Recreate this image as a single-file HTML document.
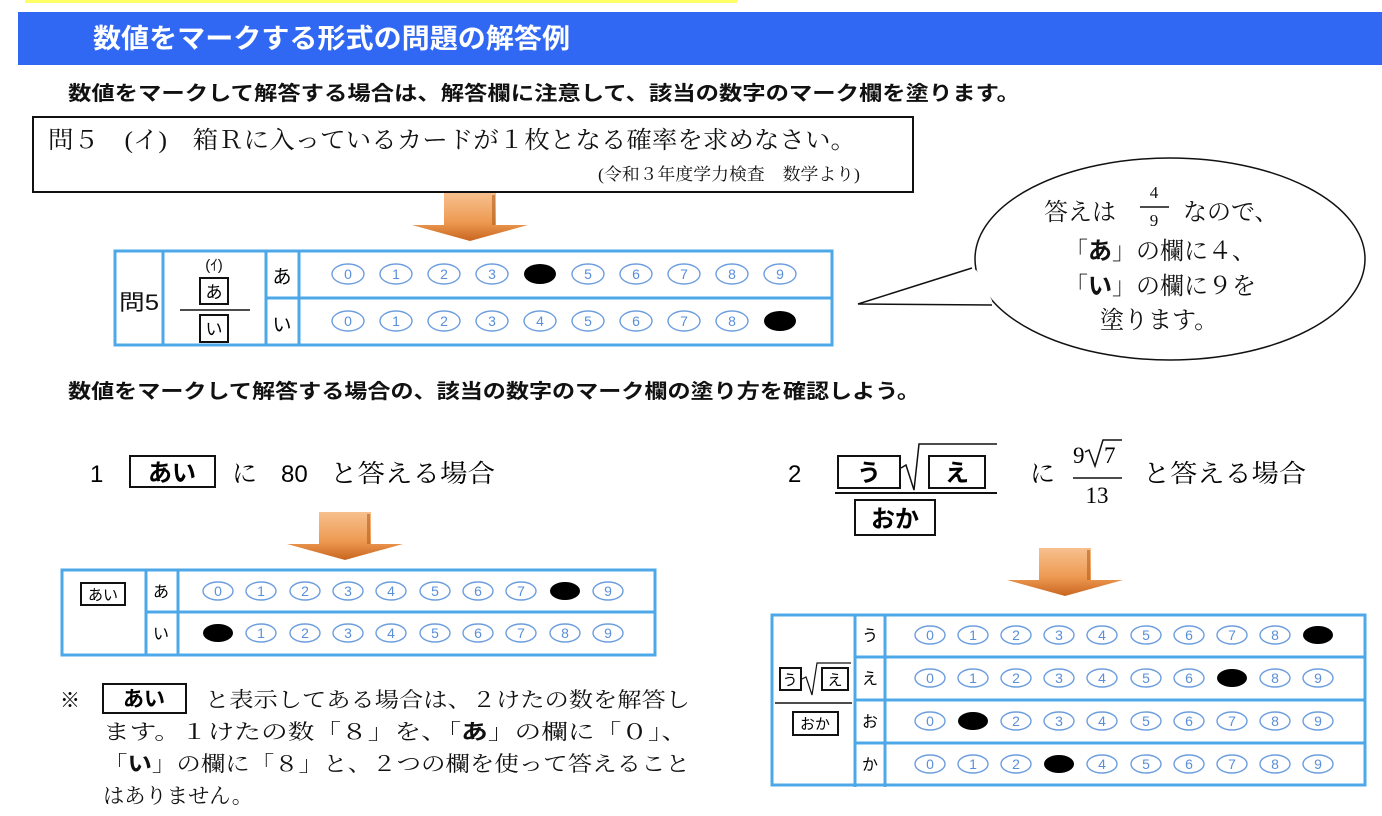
<!DOCTYPE html>
<html><head><meta charset="utf-8">
<style>
html,body{margin:0;padding:0;background:#fff;}
svg{display:block;}
.sb{font-family:"Liberation Sans","Noto Sans CJK JP",sans-serif;font-weight:bold;}
.s{font-family:"Liberation Sans","Noto Sans CJK JP",sans-serif;}
.m{font-family:"Liberation Serif","Noto Serif CJK SC",serif;}
.d{font-family:"Liberation Sans",sans-serif;font-size:14px;fill:#5a8fd8;text-anchor:middle;}
.c{fill:none;stroke:#6c9ede;stroke-width:1.4;}
.t{fill:none;stroke:#4ea8e8;stroke-width:3;}
.bx{fill:#fff;stroke:#111;stroke-width:2;}
</style></head>
<body>
<svg width="1382" height="816" viewBox="0 0 1382 816" xmlns="http://www.w3.org/2000/svg">
<defs>
<linearGradient id="og" x1="0" y1="0" x2="0" y2="1">
<stop offset="0" stop-color="#f7c08e"/><stop offset="0.6" stop-color="#ee9a52"/><stop offset="1" stop-color="#c8651f"/>
</linearGradient>
<g id="arrow">
<path d="M-26,0 H26 V32 H58 L0,48 L-58,32 H-26 Z" fill="url(#og)"/>
<rect x="22" y="2" width="3" height="30" fill="#b25e1c" opacity="0.6"/>
</g>
</defs>
<rect x="25" y="0" width="712" height="3" fill="#ffff66"/>
<rect x="18" y="12" width="1364" height="53" fill="#3068f3"/>
<text x="93" y="48" class="sb" font-size="27" fill="#fff" textLength="477" lengthAdjust="spacingAndGlyphs">数値をマークする形式の問題の解答例</text>
<text x="68" y="100" class="sb" font-size="20" fill="#111" textLength="952" lengthAdjust="spacingAndGlyphs">数値をマークして解答する場合は、解答欄に注意して、該当の数字のマーク欄を塗ります。</text>

<rect x="33" y="117" width="880" height="75" fill="#fff" stroke="#111" stroke-width="2"/>
<text x="48" y="148" class="m" font-size="24" fill="#111" textLength="808" lengthAdjust="spacingAndGlyphs">問５　(イ)　箱Ｒに入っているカードが１枚となる確率を求めなさい。</text>
<text x="598" y="180" class="m" font-size="17" fill="#111" textLength="262" lengthAdjust="spacingAndGlyphs">(令和３年度学力検査　数学より)</text>

<use href="#arrow" x="470" y="193"/>

<!-- table 1 -->
<rect x="115" y="251" width="717" height="94" class="t"/>
<line x1="163" y1="251" x2="163" y2="345" class="t"/>
<line x1="266" y1="251" x2="266" y2="345" class="t"/>
<line x1="299" y1="251" x2="299" y2="345" class="t"/>
<line x1="266" y1="298" x2="832" y2="298" class="t"/>
<text x="119" y="310" class="s" font-size="22" fill="#111" textLength="40" lengthAdjust="spacingAndGlyphs">問5</text>
<text x="214" y="270" class="s" font-size="15" text-anchor="middle" fill="#111">(ｲ)</text>
<rect x="200" y="278" width="28" height="26" class="bx" stroke-width="1.5"/>
<text x="214" y="298" class="s" font-size="17" text-anchor="middle">あ</text>
<line x1="180" y1="310" x2="250" y2="310" stroke="#111" stroke-width="1.5"/>
<rect x="200" y="315" width="28" height="27" class="bx" stroke-width="1.5"/>
<text x="214" y="335" class="s" font-size="17" text-anchor="middle">い</text>
<text x="282" y="283" class="s" font-size="19" text-anchor="middle">あ</text>
<text x="282" y="331" class="s" font-size="19" text-anchor="middle">い</text>
<g>
<ellipse cx="348" cy="274" rx="16" ry="10" class="c"/><text x="348" y="279" class="d">0</text>
<ellipse cx="396" cy="274" rx="16" ry="10" class="c"/><text x="396" y="279" class="d">1</text>
<ellipse cx="444" cy="274" rx="16" ry="10" class="c"/><text x="444" y="279" class="d">2</text>
<ellipse cx="492" cy="274" rx="16" ry="10" class="c"/><text x="492" y="279" class="d">3</text>
<ellipse cx="540" cy="274" rx="16" ry="10" fill="#000"/>
<ellipse cx="588" cy="274" rx="16" ry="10" class="c"/><text x="588" y="279" class="d">5</text>
<ellipse cx="636" cy="274" rx="16" ry="10" class="c"/><text x="636" y="279" class="d">6</text>
<ellipse cx="684" cy="274" rx="16" ry="10" class="c"/><text x="684" y="279" class="d">7</text>
<ellipse cx="732" cy="274" rx="16" ry="10" class="c"/><text x="732" y="279" class="d">8</text>
<ellipse cx="780" cy="274" rx="16" ry="10" class="c"/><text x="780" y="279" class="d">9</text>
<ellipse cx="348" cy="321" rx="16" ry="10" class="c"/><text x="348" y="326" class="d">0</text>
<ellipse cx="396" cy="321" rx="16" ry="10" class="c"/><text x="396" y="326" class="d">1</text>
<ellipse cx="444" cy="321" rx="16" ry="10" class="c"/><text x="444" y="326" class="d">2</text>
<ellipse cx="492" cy="321" rx="16" ry="10" class="c"/><text x="492" y="326" class="d">3</text>
<ellipse cx="540" cy="321" rx="16" ry="10" class="c"/><text x="540" y="326" class="d">4</text>
<ellipse cx="588" cy="321" rx="16" ry="10" class="c"/><text x="588" y="326" class="d">5</text>
<ellipse cx="636" cy="321" rx="16" ry="10" class="c"/><text x="636" y="326" class="d">6</text>
<ellipse cx="684" cy="321" rx="16" ry="10" class="c"/><text x="684" y="326" class="d">7</text>
<ellipse cx="732" cy="321" rx="16" ry="10" class="c"/><text x="732" y="326" class="d">8</text>
<ellipse cx="780" cy="321" rx="16" ry="10" fill="#000"/>
</g>

<!-- bubble -->
<ellipse cx="1170" cy="259" rx="195" ry="101" fill="#fff" stroke="#111" stroke-width="1.5"/>
<path d="M972,268 L858,304 L992,305" fill="#fff" stroke="#111" stroke-width="1.5"/>
<path d="M974,271 L990,302" stroke="#fff" stroke-width="5"/>
<g class="m" font-size="24" fill="#111">
<text x="1044" y="220">答えは</text>
<text x="1154" y="198" font-size="17" text-anchor="middle">4</text>
<line x1="1140" y1="207" x2="1169" y2="207" stroke="#111" stroke-width="1.5"/>
<text x="1154" y="226" font-size="17" text-anchor="middle">9</text>
<text x="1183" y="220">なので、</text>
<text x="1064" y="259">「<tspan class="sb">あ</tspan>」の欄に４、</text>
<text x="1064" y="294">「<tspan class="sb">い</tspan>」の欄に９を</text>
<text x="1100" y="328">塗ります。</text>
</g>

<text x="68" y="398" class="sb" font-size="20" fill="#111" textLength="852" lengthAdjust="spacingAndGlyphs">数値をマークして解答する場合の、該当の数字のマーク欄の塗り方を確認しよう。</text>

<!-- section 1 -->
<text x="90" y="482" class="s" font-size="24">1</text>
<rect x="130" y="456" width="85" height="31" class="bx"/>
<text x="172" y="481" class="sb" font-size="24" text-anchor="middle">あい</text>
<text x="232" y="482" class="m" font-size="25">に</text>
<text x="281" y="482" class="s" font-size="24">80</text>
<text x="330" y="482" class="m" font-size="25" textLength="165" lengthAdjust="spacingAndGlyphs">と答える場合</text>
<use href="#arrow" x="345" y="512"/>

<rect x="62" y="570" width="593" height="85" class="t"/>
<line x1="146" y1="570" x2="146" y2="655" class="t"/>
<line x1="178" y1="570" x2="178" y2="655" class="t"/>
<line x1="146" y1="612" x2="655" y2="612" class="t"/>
<rect x="81" y="599" width="44" height="22" class="bx" stroke-width="1.5" transform="translate(0,-16)"/>
<text x="103" y="600" class="s" font-size="15" text-anchor="middle">あい</text>
<text x="161" y="597" class="s" font-size="16" text-anchor="middle">あ</text>
<text x="161" y="639" class="s" font-size="16" text-anchor="middle">い</text>
<g>
<ellipse cx="218" cy="591" rx="15" ry="9" class="c"/><text x="218" y="596" class="d">0</text>
<ellipse cx="261" cy="591" rx="15" ry="9" class="c"/><text x="261" y="596" class="d">1</text>
<ellipse cx="305" cy="591" rx="15" ry="9" class="c"/><text x="305" y="596" class="d">2</text>
<ellipse cx="348" cy="591" rx="15" ry="9" class="c"/><text x="348" y="596" class="d">3</text>
<ellipse cx="391" cy="591" rx="15" ry="9" class="c"/><text x="391" y="596" class="d">4</text>
<ellipse cx="435" cy="591" rx="15" ry="9" class="c"/><text x="435" y="596" class="d">5</text>
<ellipse cx="478" cy="591" rx="15" ry="9" class="c"/><text x="478" y="596" class="d">6</text>
<ellipse cx="521" cy="591" rx="15" ry="9" class="c"/><text x="521" y="596" class="d">7</text>
<ellipse cx="565" cy="591" rx="15" ry="9" fill="#000"/>
<ellipse cx="608" cy="591" rx="15" ry="9" class="c"/><text x="608" y="596" class="d">9</text>
<ellipse cx="218" cy="633" rx="15" ry="9" fill="#000"/>
<ellipse cx="261" cy="633" rx="15" ry="9" class="c"/><text x="261" y="638" class="d">1</text>
<ellipse cx="305" cy="633" rx="15" ry="9" class="c"/><text x="305" y="638" class="d">2</text>
<ellipse cx="348" cy="633" rx="15" ry="9" class="c"/><text x="348" y="638" class="d">3</text>
<ellipse cx="391" cy="633" rx="15" ry="9" class="c"/><text x="391" y="638" class="d">4</text>
<ellipse cx="435" cy="633" rx="15" ry="9" class="c"/><text x="435" y="638" class="d">5</text>
<ellipse cx="478" cy="633" rx="15" ry="9" class="c"/><text x="478" y="638" class="d">6</text>
<ellipse cx="521" cy="633" rx="15" ry="9" class="c"/><text x="521" y="638" class="d">7</text>
<ellipse cx="565" cy="633" rx="15" ry="9" class="c"/><text x="565" y="638" class="d">8</text>
<ellipse cx="608" cy="633" rx="15" ry="9" class="c"/><text x="608" y="638" class="d">9</text>
</g>

<text x="60" y="707" class="s" font-size="20">※</text>
<rect x="103" y="684" width="83" height="29" class="bx"/>
<text x="144" y="706" class="sb" font-size="21" text-anchor="middle">あい</text>
<g class="m" font-size="21" fill="#111">
<text x="205" y="707" textLength="485" lengthAdjust="spacingAndGlyphs">と表示してある場合は、２けたの数を解答し</text>
<text x="103" y="739" textLength="585" lengthAdjust="spacingAndGlyphs">ます。１けたの数「８」を、「<tspan class="sb">あ</tspan>」の欄に「０」、</text>
<text x="103" y="771" textLength="587" lengthAdjust="spacingAndGlyphs">「<tspan class="sb">い</tspan>」の欄に「８」と、２つの欄を使って答えること</text>
<text x="103" y="803" textLength="150" lengthAdjust="spacingAndGlyphs">はありません。</text>
</g>

<!-- section 2 -->
<text x="788" y="482" class="s" font-size="24">2</text>
<rect x="838" y="456" width="62" height="32" class="bx"/>
<text x="869" y="481" class="sb" font-size="24" text-anchor="middle">う</text>
<path d="M901,468 L906,465 L914,490 L919,444 L997,444" fill="none" stroke="#111" stroke-width="1.5"/>
<rect x="929" y="456" width="56" height="32" class="bx"/>
<text x="957" y="481" class="sb" font-size="24" text-anchor="middle">え</text>
<line x1="835" y1="493" x2="997" y2="493" stroke="#111" stroke-width="2"/>
<rect x="855" y="500" width="80" height="35" class="bx"/>
<text x="895" y="527" class="sb" font-size="24" text-anchor="middle">おか</text>
<text x="1030" y="482" class="m" font-size="25">に</text>
<text x="1073" y="463" class="m" font-size="23">9</text>
<path d="M1085,452 L1089,450 L1095,466 L1103,440 L1122,440" fill="none" stroke="#111" stroke-width="1.5"/>
<text x="1104" y="463" class="m" font-size="23">7</text>
<line x1="1073" y1="478" x2="1122" y2="478" stroke="#111" stroke-width="1.5"/>
<text x="1097" y="503" class="m" font-size="23" text-anchor="middle">13</text>
<text x="1143" y="482" class="m" font-size="25" textLength="163" lengthAdjust="spacingAndGlyphs">と答える場合</text>
<use href="#arrow" x="1065" y="548"/>

<rect x="772" y="615" width="593" height="170" class="t"/>
<line x1="855" y1="615" x2="855" y2="787" class="t"/>
<line x1="885" y1="615" x2="885" y2="787" class="t"/>
<line x1="855" y1="657" x2="1365" y2="657" class="t"/>
<line x1="855" y1="700" x2="1365" y2="700" class="t"/>
<line x1="855" y1="743" x2="1365" y2="743" class="t"/>
<rect x="780" y="668" width="21" height="22" class="bx" stroke-width="1.3"/>
<text x="790" y="685" class="s" font-size="15" text-anchor="middle">う</text>
<path d="M802,679 L806,677 L812,695 L817,663 L851,663" fill="none" stroke="#111" stroke-width="1.2"/>
<rect x="822" y="668" width="26" height="22" class="bx" stroke-width="1.3"/>
<text x="835" y="685" class="s" font-size="15" text-anchor="middle">え</text>
<line x1="775" y1="703" x2="852" y2="703" stroke="#111" stroke-width="1.5"/>
<rect x="793" y="712" width="45" height="23" class="bx" stroke-width="1.3"/>
<text x="815" y="729" class="s" font-size="15" text-anchor="middle">おか</text>
<text x="870" y="641" class="s" font-size="16" text-anchor="middle">う</text>
<text x="870" y="684" class="s" font-size="16" text-anchor="middle">え</text>
<text x="870" y="727" class="s" font-size="16" text-anchor="middle">お</text>
<text x="870" y="770" class="s" font-size="16" text-anchor="middle">か</text>
<g>
<ellipse cx="930" cy="635" rx="15" ry="9" class="c"/><text x="930" y="640" class="d">0</text>
<ellipse cx="973" cy="635" rx="15" ry="9" class="c"/><text x="973" y="640" class="d">1</text>
<ellipse cx="1016" cy="635" rx="15" ry="9" class="c"/><text x="1016" y="640" class="d">2</text>
<ellipse cx="1059" cy="635" rx="15" ry="9" class="c"/><text x="1059" y="640" class="d">3</text>
<ellipse cx="1102" cy="635" rx="15" ry="9" class="c"/><text x="1102" y="640" class="d">4</text>
<ellipse cx="1146" cy="635" rx="15" ry="9" class="c"/><text x="1146" y="640" class="d">5</text>
<ellipse cx="1189" cy="635" rx="15" ry="9" class="c"/><text x="1189" y="640" class="d">6</text>
<ellipse cx="1232" cy="635" rx="15" ry="9" class="c"/><text x="1232" y="640" class="d">7</text>
<ellipse cx="1275" cy="635" rx="15" ry="9" class="c"/><text x="1275" y="640" class="d">8</text>
<ellipse cx="1318" cy="635" rx="15" ry="9" fill="#000"/>

<ellipse cx="930" cy="678" rx="15" ry="9" class="c"/><text x="930" y="683" class="d">0</text>
<ellipse cx="973" cy="678" rx="15" ry="9" class="c"/><text x="973" y="683" class="d">1</text>
<ellipse cx="1016" cy="678" rx="15" ry="9" class="c"/><text x="1016" y="683" class="d">2</text>
<ellipse cx="1059" cy="678" rx="15" ry="9" class="c"/><text x="1059" y="683" class="d">3</text>
<ellipse cx="1102" cy="678" rx="15" ry="9" class="c"/><text x="1102" y="683" class="d">4</text>
<ellipse cx="1146" cy="678" rx="15" ry="9" class="c"/><text x="1146" y="683" class="d">5</text>
<ellipse cx="1189" cy="678" rx="15" ry="9" class="c"/><text x="1189" y="683" class="d">6</text>
<ellipse cx="1232" cy="678" rx="15" ry="9" fill="#000"/>
<ellipse cx="1275" cy="678" rx="15" ry="9" class="c"/><text x="1275" y="683" class="d">8</text>
<ellipse cx="1318" cy="678" rx="15" ry="9" class="c"/><text x="1318" y="683" class="d">9</text>

<ellipse cx="930" cy="721" rx="15" ry="9" class="c"/><text x="930" y="726" class="d">0</text>
<ellipse cx="973" cy="721" rx="15" ry="9" fill="#000"/>
<ellipse cx="1016" cy="721" rx="15" ry="9" class="c"/><text x="1016" y="726" class="d">2</text>
<ellipse cx="1059" cy="721" rx="15" ry="9" class="c"/><text x="1059" y="726" class="d">3</text>
<ellipse cx="1102" cy="721" rx="15" ry="9" class="c"/><text x="1102" y="726" class="d">4</text>
<ellipse cx="1146" cy="721" rx="15" ry="9" class="c"/><text x="1146" y="726" class="d">5</text>
<ellipse cx="1189" cy="721" rx="15" ry="9" class="c"/><text x="1189" y="726" class="d">6</text>
<ellipse cx="1232" cy="721" rx="15" ry="9" class="c"/><text x="1232" y="726" class="d">7</text>
<ellipse cx="1275" cy="721" rx="15" ry="9" class="c"/><text x="1275" y="726" class="d">8</text>
<ellipse cx="1318" cy="721" rx="15" ry="9" class="c"/><text x="1318" y="726" class="d">9</text>

<ellipse cx="930" cy="764" rx="15" ry="9" class="c"/><text x="930" y="769" class="d">0</text>
<ellipse cx="973" cy="764" rx="15" ry="9" class="c"/><text x="973" y="769" class="d">1</text>
<ellipse cx="1016" cy="764" rx="15" ry="9" class="c"/><text x="1016" y="769" class="d">2</text>
<ellipse cx="1059" cy="764" rx="15" ry="9" fill="#000"/>
<ellipse cx="1102" cy="764" rx="15" ry="9" class="c"/><text x="1102" y="769" class="d">4</text>
<ellipse cx="1146" cy="764" rx="15" ry="9" class="c"/><text x="1146" y="769" class="d">5</text>
<ellipse cx="1189" cy="764" rx="15" ry="9" class="c"/><text x="1189" y="769" class="d">6</text>
<ellipse cx="1232" cy="764" rx="15" ry="9" class="c"/><text x="1232" y="769" class="d">7</text>
<ellipse cx="1275" cy="764" rx="15" ry="9" class="c"/><text x="1275" y="769" class="d">8</text>
<ellipse cx="1318" cy="764" rx="15" ry="9" class="c"/><text x="1318" y="769" class="d">9</text>
</g>
</svg>
</body></html>
